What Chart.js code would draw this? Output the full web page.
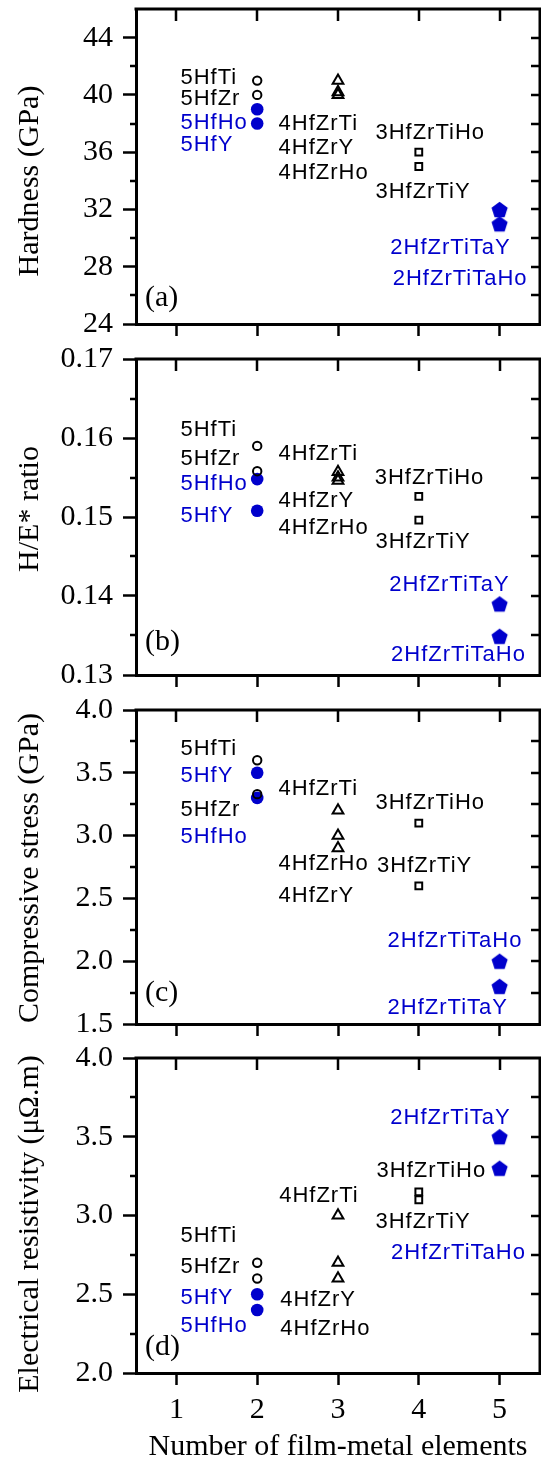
<!DOCTYPE html>
<html>
<head>
<meta charset="utf-8">
<script src="https://cdn.jsdelivr.net/npm/chart.js@4.4.1/dist/chart.umd.min.js"></script>
<style>
html, body { margin: 0; padding: 0; background: #fff; overflow: hidden; width: 541px; height: 1464px; }
canvas { position: absolute; left: 0; }
</style>
</head>
<body>
<script>
// ---------------- DATA ----------------
const films = ["5HfTi", "5HfZr", "5HfHo", "5HfY", "4HfZrTi", "4HfZrY", "4HfZrHo", "3HfZrTiHo", "3HfZrTiY", "2HfZrTiTaY", "2HfZrTiTaHo"];
const elementCount = [2, 2, 2, 2, 3, 3, 3, 4, 4, 5, 5];

const hardness    = [41, 40, 39, 38, 41, 40.2, 40, 36, 35, 32, 31];
const heRatio     = [0.159, 0.1558, 0.1548, 0.1508, 0.1557, 0.1550, 0.1546, 0.1526, 0.1496, 0.139, 0.1349];
const stress      = [3.6, 3.33, 3.3, 3.5, 3.2, 2.9, 3.0, 3.1, 2.6, 1.8, 2.0];
const resistivity = [2.7, 2.6, 2.4, 2.5, 3.0, 2.7, 2.6, 3.15, 3.1, 3.5, 3.3];

const xTickValues    = [1, 2, 3, 4, 5];
const hardnessTicks  = [24, 28, 32, 36, 40, 44];
const heRatioTicks   = [0.13, 0.14, 0.15, 0.16, 0.17];
const stressTicks    = [1.5, 2.0, 2.5, 3.0, 3.5, 4.0];
const resistTicks    = [2.0, 2.5, 3.0, 3.5, 4.0];

// text annotations: [film, x (elements), y (value)]
const hardnessLabels = [
  ["5HfTi", 1.05, 41.2], ["5HfZr", 1.05, 39.69], ["5HfHo", 1.05, 38.06], ["5HfY", 1.05, 36.5],
  ["4HfZrTi", 2.265, 37.97], ["4HfZrY", 2.265, 36.27], ["4HfZrHo", 2.265, 34.52],
  ["3HfZrTiHo", 3.463, 37.32], ["3HfZrTiY", 3.463, 33.24],
  ["2HfZrTiTaY", 3.647, 29.29], ["2HfZrTiTaHo", 3.677, 27.12]
];
const heRatioLabels = [
  ["5HfTi", 1.05, 0.1610], ["5HfZr", 1.05, 0.1574], ["5HfHo", 1.05, 0.1542], ["5HfY", 1.05, 0.1501],
  ["4HfZrTi", 2.265, 0.1580], ["4HfZrY", 2.265, 0.1520], ["4HfZrHo", 2.265, 0.1486],
  ["3HfZrTiHo", 3.454, 0.1549], ["3HfZrTiY", 3.463, 0.1469],
  ["2HfZrTiTaY", 3.635, 0.1414], ["2HfZrTiTaHo", 3.656, 0.1325]
];
const stressLabels = [
  ["5HfTi", 1.05, 3.687], ["5HfY", 1.05, 3.475], ["5HfZr", 1.05, 3.204], ["5HfHo", 1.05, 2.991],
  ["4HfZrTi", 2.265, 3.369], ["4HfZrHo", 2.265, 2.774], ["4HfZrY", 2.265, 2.519],
  ["3HfZrTiHo", 3.463, 3.257], ["3HfZrTiY", 3.484, 2.758],
  ["2HfZrTiTaHo", 3.613, 2.163], ["2HfZrTiTaY", 3.613, 1.625]
];
const resistLabels = [
  ["5HfTi", 1.05, 2.870], ["5HfZr", 1.05, 2.675], ["5HfY", 1.05, 2.474], ["5HfHo", 1.05, 2.298],
  ["4HfZrTi", 2.272, 3.126], ["4HfZrY", 2.286, 2.463], ["4HfZrHo", 2.286, 2.277],
  ["3HfZrTiHo", 3.477, 3.284], ["3HfZrTiY", 3.463, 2.957],
  ["2HfZrTiTaY", 3.647, 3.617], ["2HfZrTiTaHo", 3.656, 2.760]
];

// ---------------- STYLE ----------------
const BLUE = '#0000cc';
const SERIF = '"Liberation Serif", "Times New Roman", serif';
const SANS = '"Liberation Sans", Arial, sans-serif';
const blueFilms = new Set(["5HfHo", "5HfY", "2HfZrTiTaY", "2HfZrTiTaHo"]);

function makePentagon(r, color) {
  const size = Math.ceil(2 * r + 2);
  const c = document.createElement('canvas');
  c.width = size; c.height = size;
  const g = c.getContext('2d');
  g.fillStyle = color;
  g.beginPath();
  const cx = size / 2, cy = size / 2 + r * 0.095;
  for (let i = 0; i < 5; i++) {
    const a = -Math.PI / 2 + i * 2 * Math.PI / 5;
    const px = cx + r * Math.cos(a), py = cy + r * Math.sin(a);
    if (i) g.lineTo(px, py); else g.moveTo(px, py);
  }
  g.closePath();
  g.fill();
  return c;
}
const pentagonImg = makePentagon(8.5, BLUE);

const markerStyles = {
  openCircle: { pointStyle: 'circle', pointRadius: 4.2, borderWidth: 2, borderColor: '#000', backgroundColor: 'rgba(0,0,0,0)' },
  blueCircle: { pointStyle: 'circle', pointRadius: 6.3, borderWidth: 0, borderColor: BLUE, backgroundColor: BLUE },
  triangle:   { pointStyle: 'triangle', pointRadius: 6.2, borderWidth: 2, borderColor: '#000', backgroundColor: 'rgba(0,0,0,0)' },
  square:     { pointStyle: 'rect', pointRadius: 4.8, borderWidth: 2, borderColor: '#000', backgroundColor: 'rgba(0,0,0,0)' },
  pentagon:   { pointStyle: pentagonImg, pointRadius: 9, borderWidth: 0, borderColor: BLUE, backgroundColor: BLUE }
};
function markerFor(film) {
  if (film.startsWith('2')) return 'pentagon';
  if (film.startsWith('3')) return 'square';
  if (film.startsWith('4')) return 'triangle';
  return blueFilms.has(film) ? 'blueCircle' : 'openCircle';
}

const panels = [
  { tag: '(a)', values: hardness, ticks: hardnessTicks, min: 24, max: 46, dec: 0, title: 'Hardness (GPa)', titleY: 181, labels: hardnessLabels, tagPos: [0.61, 25.8], top: 9, bottom: 324 },
  { tag: '(b)', values: heRatio, ticks: heRatioTicks, min: 0.13, max: 0.17, dec: 2, title: 'H/E* ratio', titleY: 509, labels: heRatioLabels, tagPos: [0.61, 0.1342], top: 359, bottom: 675 },
  { tag: '(c)', values: stress, ticks: stressTicks, min: 1.5, max: 4.0, dec: 1, title: 'Compressive stress (GPa)', titleY: 868, labels: stressLabels, tagPos: [0.61, 1.747], top: 710, bottom: 1024 },
  { tag: '(d)', values: resistivity, ticks: resistTicks, min: 2.0, max: 4.0, dec: 1, title: 'Electrical resistivity (\u03bc\u03a9.m)', titleY: 1224, labels: resistLabels, tagPos: [0.61, 2.167], top: 1058, bottom: 1373 }
];

const framePlugin = {
  id: 'frame',
  afterDraw(chart) {
    const { ctx, chartArea: { left, right, top, bottom }, scales: { x, y } } = chart;
    const o = chart.options.plugins.frame;
    const ticks = o.majorTicks;
    ctx.save();
    ctx.strokeStyle = '#000';
    ctx.lineCap = 'butt';
    ctx.lineWidth = 3;
    ctx.beginPath();
    ctx.moveTo(left - 1.5, top);
    ctx.lineTo(right, top);
    ctx.lineTo(right, bottom + 1.5);
    ctx.stroke();
    ctx.lineWidth = 2.5;
    ctx.beginPath();
    for (const v of xTickValues) {
      const px = Math.round(x.getPixelForValue(v));
      ctx.moveTo(px, top); ctx.lineTo(px, top + 12);
    }
    for (const v of ticks) {
      const py = Math.round(y.getPixelForValue(v));
      if (py <= top + 1 || py >= bottom - 1) continue;
      ctx.moveTo(right, py); ctx.lineTo(right - 9, py);
    }
    for (let i = 0; i + 1 < ticks.length; i++) {
      const mv = (ticks[i] + ticks[i + 1]) / 2;
      const py = Math.round(y.getPixelForValue(mv));
      ctx.moveTo(left, py); ctx.lineTo(left - 6, py);
      ctx.moveTo(right, py); ctx.lineTo(right - 9, py);
    }
    ctx.stroke();
    ctx.font = '30px ' + SERIF;
    ctx.fillStyle = '#000';
    ctx.textAlign = 'center';
    ctx.textBaseline = 'middle';
    ctx.translate(30, o.titleY - o.canvasTop);
    ctx.rotate(-Math.PI / 2);
    ctx.fillText(o.title, 0, 0);
    ctx.restore();
  }
};

const labelPlugin = {
  id: 'filmLabels',
  afterDatasetsDraw(chart) {
    const { ctx, scales: { x, y } } = chart;
    const o = chart.options.plugins.filmLabels;
    ctx.save();
    ctx.textAlign = 'left';
    ctx.textBaseline = 'middle';
    ctx.font = '22px ' + SANS;
    ctx.letterSpacing = '1px';
    for (const [film, lx, ly] of o.labels) {
      ctx.fillStyle = blueFilms.has(film) ? BLUE : '#000';
      ctx.fillText(film, x.getPixelForValue(lx), y.getPixelForValue(ly));
    }
    ctx.letterSpacing = '0px';
    ctx.font = '30px ' + SERIF;
    ctx.fillStyle = '#000';
    ctx.fillText(o.tag, x.getPixelForValue(o.tagPos[0]), y.getPixelForValue(o.tagPos[1]));
    ctx.restore();
  }
};

function zeroPadding(s) { s.paddingTop = 0; s.paddingBottom = 0; s.paddingLeft = 0; s.paddingRight = 0; }

const PAD_TOP = 25;
const CANVAS_W = 541;
panels.forEach((p, idx) => {
  const isLast = idx === panels.length - 1;
  const canvasTop = p.top - PAD_TOP;
  const canvasBottom = isLast ? 1470 : p.bottom + 18;
  const h = canvasBottom - canvasTop;
  const xAxisH = canvasBottom - p.bottom;
  const cv = document.createElement('canvas');
  cv.width = CANVAS_W; cv.height = h;
  cv.style.width = CANVAS_W + 'px'; cv.style.height = h + 'px';
  cv.style.top = canvasTop + 'px';
  document.body.appendChild(cv);

  const order = ['openCircle', 'blueCircle', 'triangle', 'square', 'pentagon'];
  const datasets = order.map(m => {
    const pts = [];
    films.forEach((f, i) => { if (markerFor(f) === m) pts.push({ x: elementCount[i], y: p.values[i] }); });
    return Object.assign({ label: m, data: pts, showLine: false }, markerStyles[m]);
  });

  new Chart(cv, {
    type: 'scatter',
    data: { datasets },
    options: {
      responsive: false,
      animation: false,
      devicePixelRatio: 1,
      events: [],
      layout: { autoPadding: false, padding: { top: PAD_TOP, right: 1, left: 0, bottom: 0 } },
      plugins: {
        legend: { display: false },
        tooltip: { enabled: false },
        frame: { majorTicks: p.ticks, title: p.title, titleY: p.titleY, canvasTop: canvasTop },
        filmLabels: { labels: p.labels, tag: p.tag, tagPos: p.tagPos }
      },
      scales: {
        x: {
          type: 'linear', position: 'bottom', min: 0.5, max: 5.5,
          afterBuildTicks: s => { s.ticks = xTickValues.map(v => ({ value: v })); },
          afterFit: s => { s.height = xAxisH; zeroPadding(s); },
          ticks: { display: isLast, font: { family: SERIF, size: 30, lineHeight: 1.2 }, color: '#000', padding: 7, maxRotation: 0, autoSkip: false },
          grid: { drawOnChartArea: false, drawTicks: true, tickLength: 12, tickWidth: 2.5, tickColor: '#000' },
          border: { display: true, width: 3, color: '#000' },
          title: { display: isLast, text: 'Number of film-metal elements', font: { family: SERIF, size: 30, lineHeight: 1.2 }, color: '#000', padding: { top: 0, bottom: 5 } }
        },
        y: {
          type: 'linear', position: 'left', min: p.min, max: p.max,
          afterBuildTicks: s => { s.ticks = p.ticks.map(v => ({ value: v })); },
          afterFit: s => { s.width = 136; zeroPadding(s); },
          ticks: { font: { family: SERIF, size: 30, lineHeight: 1.2 }, color: '#000', padding: 10, callback: v => Number(v).toFixed(p.dec) },
          grid: { drawOnChartArea: false, drawTicks: true, tickLength: 13, tickWidth: 2.5, tickColor: '#000' },
          border: { display: true, width: 3, color: '#000' },
          title: { display: false }
        }
      }
    },
    plugins: [framePlugin, labelPlugin]
  });
});
</script>
</body>
</html>
